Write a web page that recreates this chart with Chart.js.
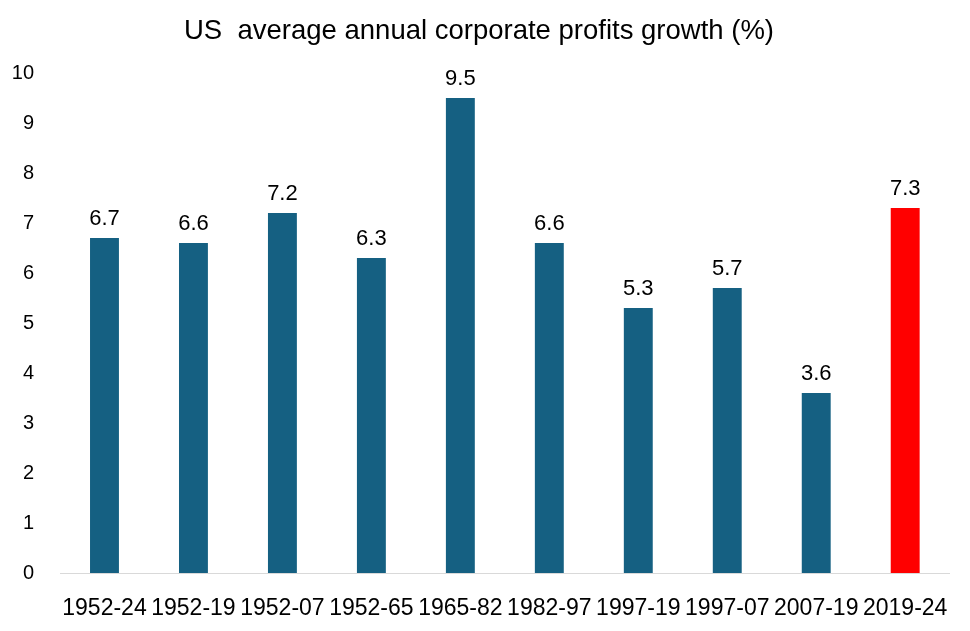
<!DOCTYPE html>
<html>
<head>
<meta charset="utf-8">
<script src="https://cdn.jsdelivr.net/npm/chart.js@4"></script>
<style>
  html, body { margin: 0; padding: 0; background: #fff; }
  #wrap { width: 970px; height: 631px; }
</style>
</head>
<body>
<div id="wrap"><canvas id="chart" width="970" height="631"></canvas></div>
<script>
const periods = ['1952-24', '1952-19', '1952-07', '1952-65', '1965-82', '1982-97', '1997-19', '1997-07', '2007-19', '2019-24'];
const growth = [6.7, 6.6, 7.2, 6.3, 9.5, 6.6, 5.3, 5.7, 3.6, 7.3];
const barColors = ['#156082', '#156082', '#156082', '#156082', '#156082', '#156082', '#156082', '#156082', '#156082', '#ff0000'];
const yTicks = [0, 1, 2, 3, 4, 5, 6, 7, 8, 9, 10];

const fontFamily = "'Liberation Sans', Arial, sans-serif";

// draws the value above each bar
const valueLabels = {
  id: 'valueLabels',
  afterDatasetsDraw(chart) {
    const ctx = chart.ctx;
    const meta = chart.getDatasetMeta(0);
    ctx.save();
    ctx.font = "22px " + fontFamily;
    ctx.fillStyle = '#000';
    ctx.textAlign = 'center';
    ctx.textBaseline = 'alphabetic';
    meta.data.forEach((bar, i) => {
      ctx.fillText(growth[i].toFixed(1), bar.x, bar.y - 13);
    });
    ctx.restore();
  }
};

new Chart(document.getElementById('chart').getContext('2d'), {
  type: 'bar',
  data: {
    labels: periods,
    datasets: [{
      data: growth,
      backgroundColor: barColors,
      barPercentage: 0.325,
      categoryPercentage: 1
    }]
  },
  options: {
    responsive: false,
    animation: false,
    layout: { padding: { left: 0, right: 12, top: 0, bottom: 10 } },
    plugins: {
      legend: { display: false },
      tooltip: { enabled: false },
      title: {
        display: true,
        text: 'US  average annual corporate profits growth (%)',
        color: '#000',
        font: { family: fontFamily, size: 27.5, weight: 'normal' },
        padding: { top: 15, bottom: 25 }
      }
    },
    scales: {
      x: {
        afterFit(scale) { scale.height = 48; },
        grid: { display: false, drawTicks: false },
        border: { color: '#d9d9d9', width: 1 },
        ticks: {
          color: '#000',
          font: { family: fontFamily, size: 23 },
          padding: 22,
          maxRotation: 0,
          autoSkip: false
        }
      },
      y: {
        min: 0,
        max: 10,
        afterFit(scale) { scale.width = 60; },
        afterBuildTicks(scale) { scale.ticks = yTicks.map(v => ({ value: v })); },
        grid: { display: false, drawTicks: false },
        border: { display: false },
        ticks: {
          color: '#000',
          font: { family: fontFamily, size: 20 },
          padding: 26
        }
      }
    }
  },
  plugins: [valueLabels]
});
</script>
</body>
</html>
